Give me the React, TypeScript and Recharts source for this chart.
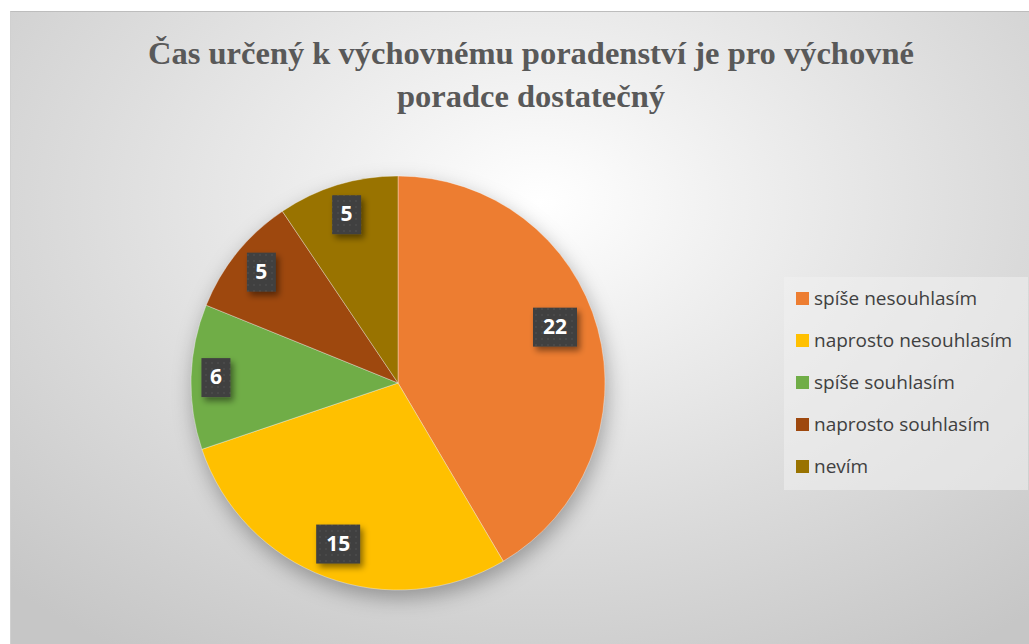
import { Cell, Legend, Pie, PieChart } from "recharts";

const categories = [
  "spíše nesouhlasím",
  "naprosto nesouhlasím",
  "spíše souhlasím",
  "naprosto souhlasím",
  "nevím",
];
const values = [22, 15, 6, 5, 5];
const colors = ["#ED7D31", "#FFC000", "#70AD47", "#9E480E", "#997300"];
// Excel "best fit" label placement: fraction of radius + small angle nudge (deg)
const labelRadius = [0.805, 0.83, 0.88, 0.85, 0.85];
const labelNudge = [4.3, 0, 0, 0, 0];

const data = categories.map((name, i) => ({ name, value: values[i] }));

const RAD = Math.PI / 180;

function DataLabel(props: any) {
  const { cx, cy, midAngle, outerRadius, value, index } = props;
  const r = outerRadius * labelRadius[index];
  const a = midAngle + labelNudge[index];
  const x = cx + r * Math.cos(-a * RAD);
  const y = cy + r * Math.sin(-a * RAD);
  const text = String(value);
  const w = text.length > 1 ? 44 : 29;
  const h = 39;
  return (
    <g>
      <defs>
        <pattern id={`dots-${index}`} width="6" height="6" patternUnits="userSpaceOnUse">
          <rect width="6" height="6" fill="#404040" />
          <circle cx="3" cy="3" r="1" fill="#4d4d4d" />
        </pattern>
        <filter id={`lblshadow-${index}`} x="-30%" y="-30%" width="170%" height="170%">
          <feDropShadow dx="3" dy="4" stdDeviation="3" floodColor="#000" floodOpacity="0.45" />
        </filter>
      </defs>
      <rect
        x={x - w / 2}
        y={y - h / 2}
        width={w}
        height={h}
        fill={`url(#dots-${index})`}
        filter={`url(#lblshadow-${index})`}
      />
      <text
        x={x}
        y={y + 1}
        textAnchor="middle"
        dominantBaseline="middle"
        fill="#ffffff"
        fontFamily="'Open Sans', sans-serif"
        fontWeight={700}
        fontSize={21}
      >
        {text}
      </text>
    </g>
  );
}

function LegendBox() {
  return (
    <div
      style={{
        background: "rgba(240,240,240,0.55)",
        width: 244,
        height: 213,
        boxSizing: "border-box",
        paddingTop: 0,
        paddingLeft: 12,
      }}
    >
      {categories.map((c, i) => (
        <div key={c} style={{ display: "flex", alignItems: "center", height: 42 }}>
          <span
            style={{
              display: "inline-block",
              width: 13,
              height: 13,
              background: colors[i],
              marginRight: 5,
            }}
          />
          <span
            style={{
              fontFamily: "'Open Sans', sans-serif",
              fontSize: 19,
              color: "#404040",
              whiteSpace: "nowrap",
            }}
          >
            {c}
          </span>
        </div>
      ))}
    </div>
  );
}

export default function App() {
  return (
    <div
      style={{
        position: "absolute",
        left: 10,
        top: 11,
        width: 1019,
        height: 633,
        borderTop: "1px solid #bdbdbd",
        borderLeft: "1px solid #d0d0d0",
        boxSizing: "border-box",
        background:
          "radial-gradient(ellipse 75% 85% at 52% 30%, #ffffff 0%, #f0f0f0 25%, #dcdcdc 60%, #c6c6c6 100%)",
        overflow: "hidden",
      }}
    >
      <style>{`.recharts-pie > g:first-child { filter: drop-shadow(2px 8px 10px rgba(0,0,0,0.3)); }`}</style>
      <div
        style={{
          position: "absolute",
          left: 0,
          width: 1040,
          top: 20,
          textAlign: "center",
          fontFamily: "'Liberation Serif', serif",
          fontWeight: 700,
          fontSize: 32.5,
          lineHeight: "43px",
          color: "#595959",
        }}
      >
        Čas určený k výchovnému poradenství je pro výchovné
        <br />
        poradce dostatečný
      </div>
      <PieChart width={1019} height={632} margin={{ top: 0, right: 0, bottom: 0, left: 0 }}>
        <Pie
          data={data}
          dataKey="value"
          nameKey="name"
          cx={387}
          cy={371}
          outerRadius={207}
          startAngle={90}
          endAngle={-270}
          stroke="rgba(255,255,255,0.35)"
          strokeWidth={1}
          label={DataLabel}
          labelLine={false}
          isAnimationActive={false}
        >
          {data.map((d, i) => (
            <Cell key={d.name} fill={colors[i]} />
          ))}
        </Pie>
        <Legend
          content={() => <LegendBox />}
          layout="vertical"
          wrapperStyle={{ position: "absolute", left: 773, top: 265, width: 244 }}
        />
      </PieChart>
    </div>
  );
}
